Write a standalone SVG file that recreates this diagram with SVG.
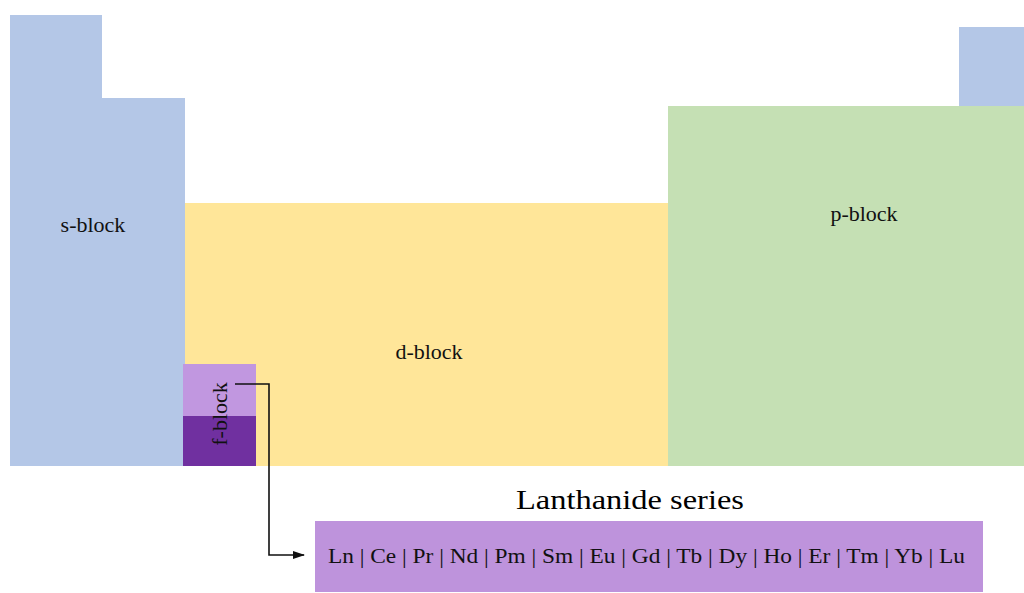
<svg xmlns="http://www.w3.org/2000/svg" width="1024" height="593" viewBox="0 0 1024 593">
<defs>
<style>
.lbl{font-family:"Liberation Serif","Times New Roman",serif;font-size:22px;fill:#111;text-anchor:middle}
.s{fill:#B4C7E7}
.d{fill:#FFE699}
.p{fill:#C5E0B4}
.conn{fill:none;stroke:#111;stroke-width:1.6}
</style>
<marker id="arr" markerWidth="12" markerHeight="10" refX="11" refY="5" orient="auto" markerUnits="userSpaceOnUse">
<path d="M0,1 L12,5 L0,9 Z" fill="#111"/>
</marker>
</defs>
<rect width="1024" height="593" fill="#fff"/>
<g id="s-block">
<rect class="s" x="10" y="15" width="92" height="451"/>
<rect class="s" x="101" y="98" width="84" height="368"/>
<text class="lbl" x="93" y="232">s-block</text>
</g>
<g id="d-block">
<rect class="d" x="185" y="203" width="483" height="263"/>
<text class="lbl" x="429" y="359">d-block</text>
</g>
<g id="p-block">
<rect class="p" x="668" y="106" width="356" height="360"/>
<rect class="s" x="959" y="27" width="65" height="79"/>
<text class="lbl" x="864" y="221">p-block</text>
</g>
<g id="f-block">
<rect x="183" y="364" width="73" height="53" fill="#C197E0"/>
<rect x="183" y="416" width="73" height="50" fill="#7030A0"/>
<text class="lbl" transform="translate(227,414) rotate(-90)" x="0" y="0">f-block</text>
</g>
<g id="connectors">
<path class="conn" d="M235,384 H269 V555 H304" marker-end="url(#arr)"/>
</g>
<g id="lanthanide">
<text x="516" y="509" textLength="228" lengthAdjust="spacingAndGlyphs" style="font-family:'Liberation Serif','Times New Roman',serif;font-size:27px;fill:#000">Lanthanide series</text>
<rect x="315" y="521" width="668" height="71" fill="#BE93DC"/>
<text class="lbl" x="328" y="563" textLength="637" lengthAdjust="spacingAndGlyphs" style="text-anchor:start">Ln | Ce | Pr | Nd | Pm | Sm | Eu | Gd | Tb | Dy | Ho | Er | Tm | Yb | Lu</text>
</g>
</svg>
